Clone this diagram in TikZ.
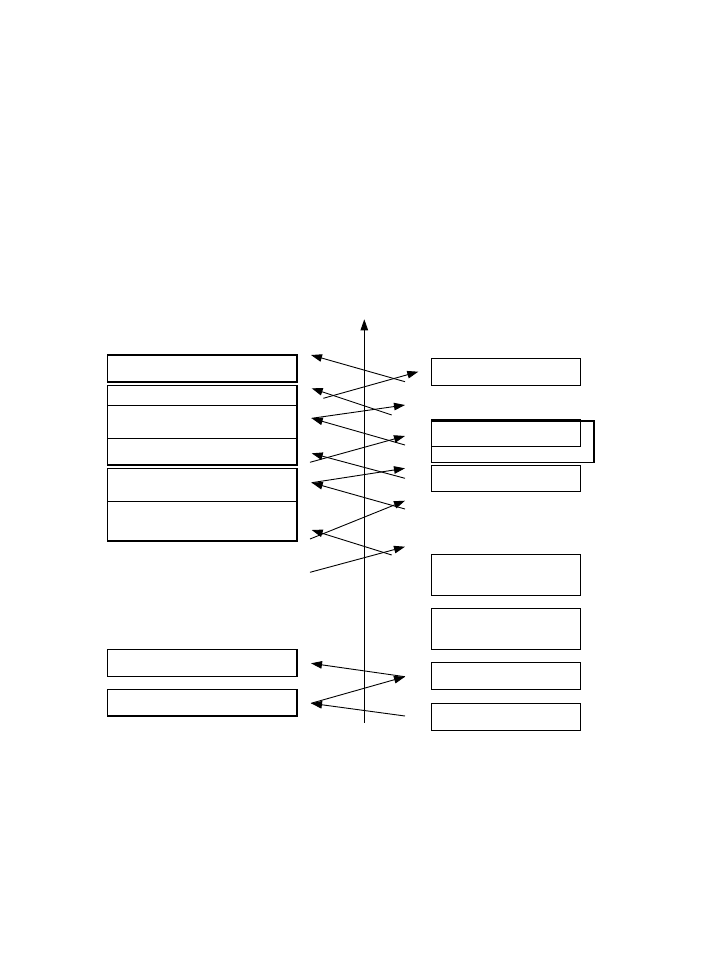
\documentclass[tikz,border=0pt]{standalone}
\usetikzlibrary{arrows.meta}
\begin{document}
\begin{tikzpicture}[x=1pt,y=-1pt,
  box/.style={draw,line width=1.1pt,rectangle,inner sep=0pt,outer sep=0pt},
  lbox/.style={box,minimum width=189.5pt},
  rbox/.style={box,minimum width=149pt},
  arr/.style={line width=0.9pt,-{Triangle[length=11pt,width=7.5pt]}},
  seg/.style={line width=0.9pt}]
\useasboundingbox (0,0) rectangle (702,978);
% left boxes
\node[lbox,minimum height=27pt] (L1) at (202.25,368.5) {};
\node[lbox,minimum height=79.5pt] (L2) at (202.25,425.25) {};
\node[lbox,minimum height=72.7pt] (L3) at (202.25,504.65) {};
\node[lbox,minimum height=27pt] (L4) at (202.25,662.8) {};
\node[lbox,minimum height=26.7pt] (L5) at (202.25,702.65) {};
\draw[line width=0.9pt] (L2.west |- 0,405.7) -- (L2.east |- 0,405.7);
\draw[line width=0.9pt] (L2.west |- 0,438.3) -- (L2.east |- 0,438.3);
\draw[line width=0.9pt] (L3.west |- 0,501.3) -- (L3.east |- 0,501.3);
% right boxes
\node[box,minimum width=162.3pt,minimum height=41.3pt] (R2b) at (512.85,441.65) {};
\node[rbox,minimum height=27pt] (R1) at (506.2,371.8) {};
\node[rbox,minimum height=27pt] (R2) at (506.2,432.8) {};
\node[rbox,minimum height=26pt] (R3) at (506.2,478.3) {};
\node[rbox,minimum height=41pt] (R4) at (506.2,574.8) {};
\node[rbox,minimum height=41pt] (R5) at (506.2,628.8) {};
\node[rbox,minimum height=27pt] (R6) at (506.2,675.8) {};
\node[rbox,minimum height=27pt] (R7) at (506.2,716.8) {};
% axis
\coordinate (ax0) at (364.3,722.7);
\coordinate (ax1) at (364.3,319.3);
\draw[arr] (ax0) -- (ax1);
% message arrows
\coordinate (a1s) at (405,381.7);   \coordinate (a1e) at (311,355);
\coordinate (a2s) at (323.3,398.3); \coordinate (a2e) at (418.3,371.7);
\coordinate (a3s) at (391.7,415);   \coordinate (a3e) at (311.7,388.3);
\coordinate (v1) at (311.7,418.3);
\coordinate (a4e) at (405,405);
\coordinate (a5s) at (405,445);
\coordinate (a6s) at (310,462.3);   \coordinate (a6e) at (405,436);
\coordinate (a7s) at (405,478.3);   \coordinate (a7e) at (311.7,453.3);
\coordinate (v2) at (311.7,482.7);
\coordinate (a8s) at (405,509);     \coordinate (a8e) at (405,468.3);
\coordinate (a9s) at (310,539);     \coordinate (a9e) at (405,500.7);
\coordinate (a10s) at (391.7,555);  \coordinate (a10e) at (311.7,530);
\coordinate (a11s) at (310,572.3);  \coordinate (a11e) at (405,546.7);
\coordinate (b1) at (405,676.7);
\coordinate (b2) at (311,663.3);
\coordinate (v3) at (311,703.3);
\coordinate (b3) at (405,716);
\draw[arr] (a1s) -- (a1e);
\draw[arr] (a2s) -- (a2e);
\draw[arr] (a3s) -- (a3e);
\draw[arr] (a5s) -- (v1);
\draw[arr] (v1) -- (a4e);
\draw[arr] (a6s) -- (a6e);
\draw[arr] (a7s) -- (a7e);
\draw[arr] (a8s) -- (v2);
\draw[arr] (v2) -- (a8e);
\draw[arr] (a9s) -- (a9e);
\draw[arr] (a10s) -- (a10e);
\draw[arr] (a11s) -- (a11e);
\draw[arr] (b1) -- (b2);
\draw[arr] (v3) -- (b1);
\draw[arr] (b3) -- (v3);
\end{tikzpicture}
\end{document}
